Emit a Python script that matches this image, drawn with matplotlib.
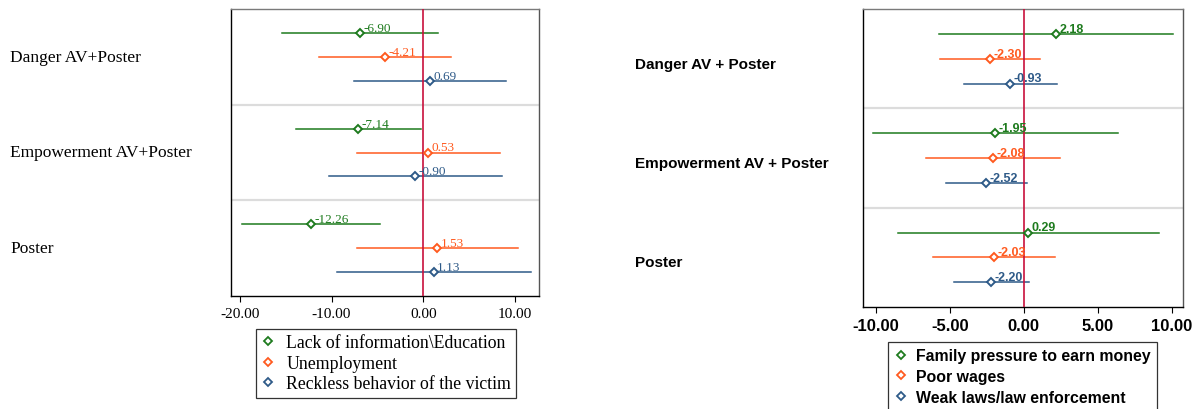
import matplotlib.pyplot as plt
import matplotlib.transforms as mtransforms
from matplotlib.lines import Line2D

plt.rcParams['axes.unicode_minus'] = False

# groups shared by both panels
groups = ['Danger AV + Poster', 'Empowerment AV + Poster', 'Poster']
left_groups = ['Danger AV+Poster', 'Empowerment AV+Poster', 'Poster']
colors = ['#1e7b1e', '#ff5a1f', '#2e5a88']

# left panel: estimate, lower and upper bound per series (one value per group)
left_series = ['Lack of information\\Education', 'Unemployment', 'Reckless behavior of the victim']
left_est = [[-6.90, -7.14, -12.26], [-4.21, 0.53, 1.53], [0.69, -0.90, 1.13]]
left_lo = [[-15.4, -13.9, -19.75], [-11.4, -7.2, -7.2], [-7.5, -10.3, -9.4]]
left_hi = [[1.6, -0.3, -4.7], [3.0, 8.4, 10.35], [9.0, 8.6, 11.7]]
left_ticks = [-20, -10, 0, 10]

# right panel
right_series = ['Family pressure to earn money', 'Poor wages', 'Weak laws/law enforcement']
right_est = [[2.18, -1.95, 0.29], [-2.30, -2.08, -2.03], [-0.93, -2.52, -2.20]]
right_lo = [[-5.73, -10.2, -8.49], [-5.69, -6.59, -6.14], [-4.04, -5.28, -4.74]]
right_hi = [[10.1, 6.39, 9.14], [1.13, 2.46, 2.14], [2.26, 0.25, 0.36]]
right_ticks = [-10, -5, 0, 5, 10]


def draw_panel(fig, ax, est, lo, hi, labels, ticks, xlim, font, label_x, label_dy,
               val_size, tick_size, lab_size):
    for s in range(3):
        for g in range(3):
            y = g * 4 + s + 1
            ax.plot([lo[s][g], hi[s][g]], [y, y], color=colors[s], lw=1.1, zorder=2)
            ax.plot(est[s][g], y, marker='D', ms=4.5, mfc='white', mec=colors[s],
                    mew=1.4, zorder=4)
            ax.annotate('%.2f' % est[s][g], (est[s][g], y), xytext=(2.5, 1.5),
                        textcoords='offset points', ha='left', va='baseline',
                        color=colors[s], fontsize=val_size, zorder=5, **font)
    for sep in (4, 8):
        ax.axhline(sep, color='#dcdcdc', lw=1.6, zorder=1)
    ax.axvline(0, color='#c8103c', lw=1.2, zorder=3)
    ax.set_ylim(12, 0)
    ax.set_xlim(*xlim)
    ax.set_yticks([])
    ax.set_xticks(ticks)
    ax.set_xticklabels(['%.2f' % t for t in ticks], fontsize=tick_size, **font)
    ax.tick_params(axis='x', length=4, width=0.8, pad=4)
    ax.spines['left'].set_color('black')
    ax.spines['bottom'].set_color('black')
    ax.spines['top'].set_color('#7a7a7a')
    ax.spines['right'].set_color('#555555')
    for sp in ax.spines.values():
        sp.set_linewidth(1.0)
    trans = mtransforms.blended_transform_factory(fig.transFigure, ax.transData)
    for g, lab in enumerate(labels):
        ax.text(label_x, g * 4 + 2 + label_dy, lab, transform=trans, ha='left', va='center',
                fontsize=lab_size, **font)


fig = plt.figure(figsize=(11.99, 4.10), dpi=100)

serif = {'family': 'Liberation Serif'}
sans = {'family': 'Liberation Sans', 'weight': 'bold'}

ax1 = fig.add_axes([231 / 1199, 1 - 297 / 410, 308 / 1199, 287 / 410])
draw_panel(fig, ax1, left_est, left_lo, left_hi, left_groups, left_ticks,
           (-20.95, 12.6), serif, 10 / 1199, 0.0, 9.5, 11, 12.5)

ax2 = fig.add_axes([863 / 1199, 1 - 308 / 410, 320 / 1199, 298 / 410])
draw_panel(fig, ax2, right_est, right_lo, right_hi, groups, right_ticks,
           (-10.87, 10.77), sans, 635 / 1199, 0.2, 9, 12, 11)


def legend_handles(names):
    return [Line2D([], [], ls='none', marker='D', ms=4, mfc='white', mec=c, mew=1.3, label=n)
            for n, c in zip(names, colors)]


leg1 = fig.legend(handles=legend_handles(left_series), loc='upper left',
                  bbox_to_anchor=(256 / 1199, 1 - 330 / 410), borderaxespad=0,
                  frameon=True, fancybox=False, edgecolor='black', handlelength=0.8,
                  handletextpad=0.6, borderpad=0.3, labelspacing=0.2,
                  prop={'family': 'Liberation Serif', 'size': 12.8})
leg1.get_frame().set_linewidth(0.9)

leg2 = fig.legend(handles=legend_handles(right_series), loc='upper left',
                  bbox_to_anchor=(888 / 1199, 1 - 343 / 410), borderaxespad=0,
                  frameon=True, fancybox=False, edgecolor='black', handlelength=0.8,
                  handletextpad=0.6, borderpad=0.4, labelspacing=0.36,
                  prop={'family': 'Liberation Sans', 'weight': 'bold', 'size': 11.4})
leg2.get_frame().set_linewidth(0.9)

fig.savefig('out.png', dpi=100)
